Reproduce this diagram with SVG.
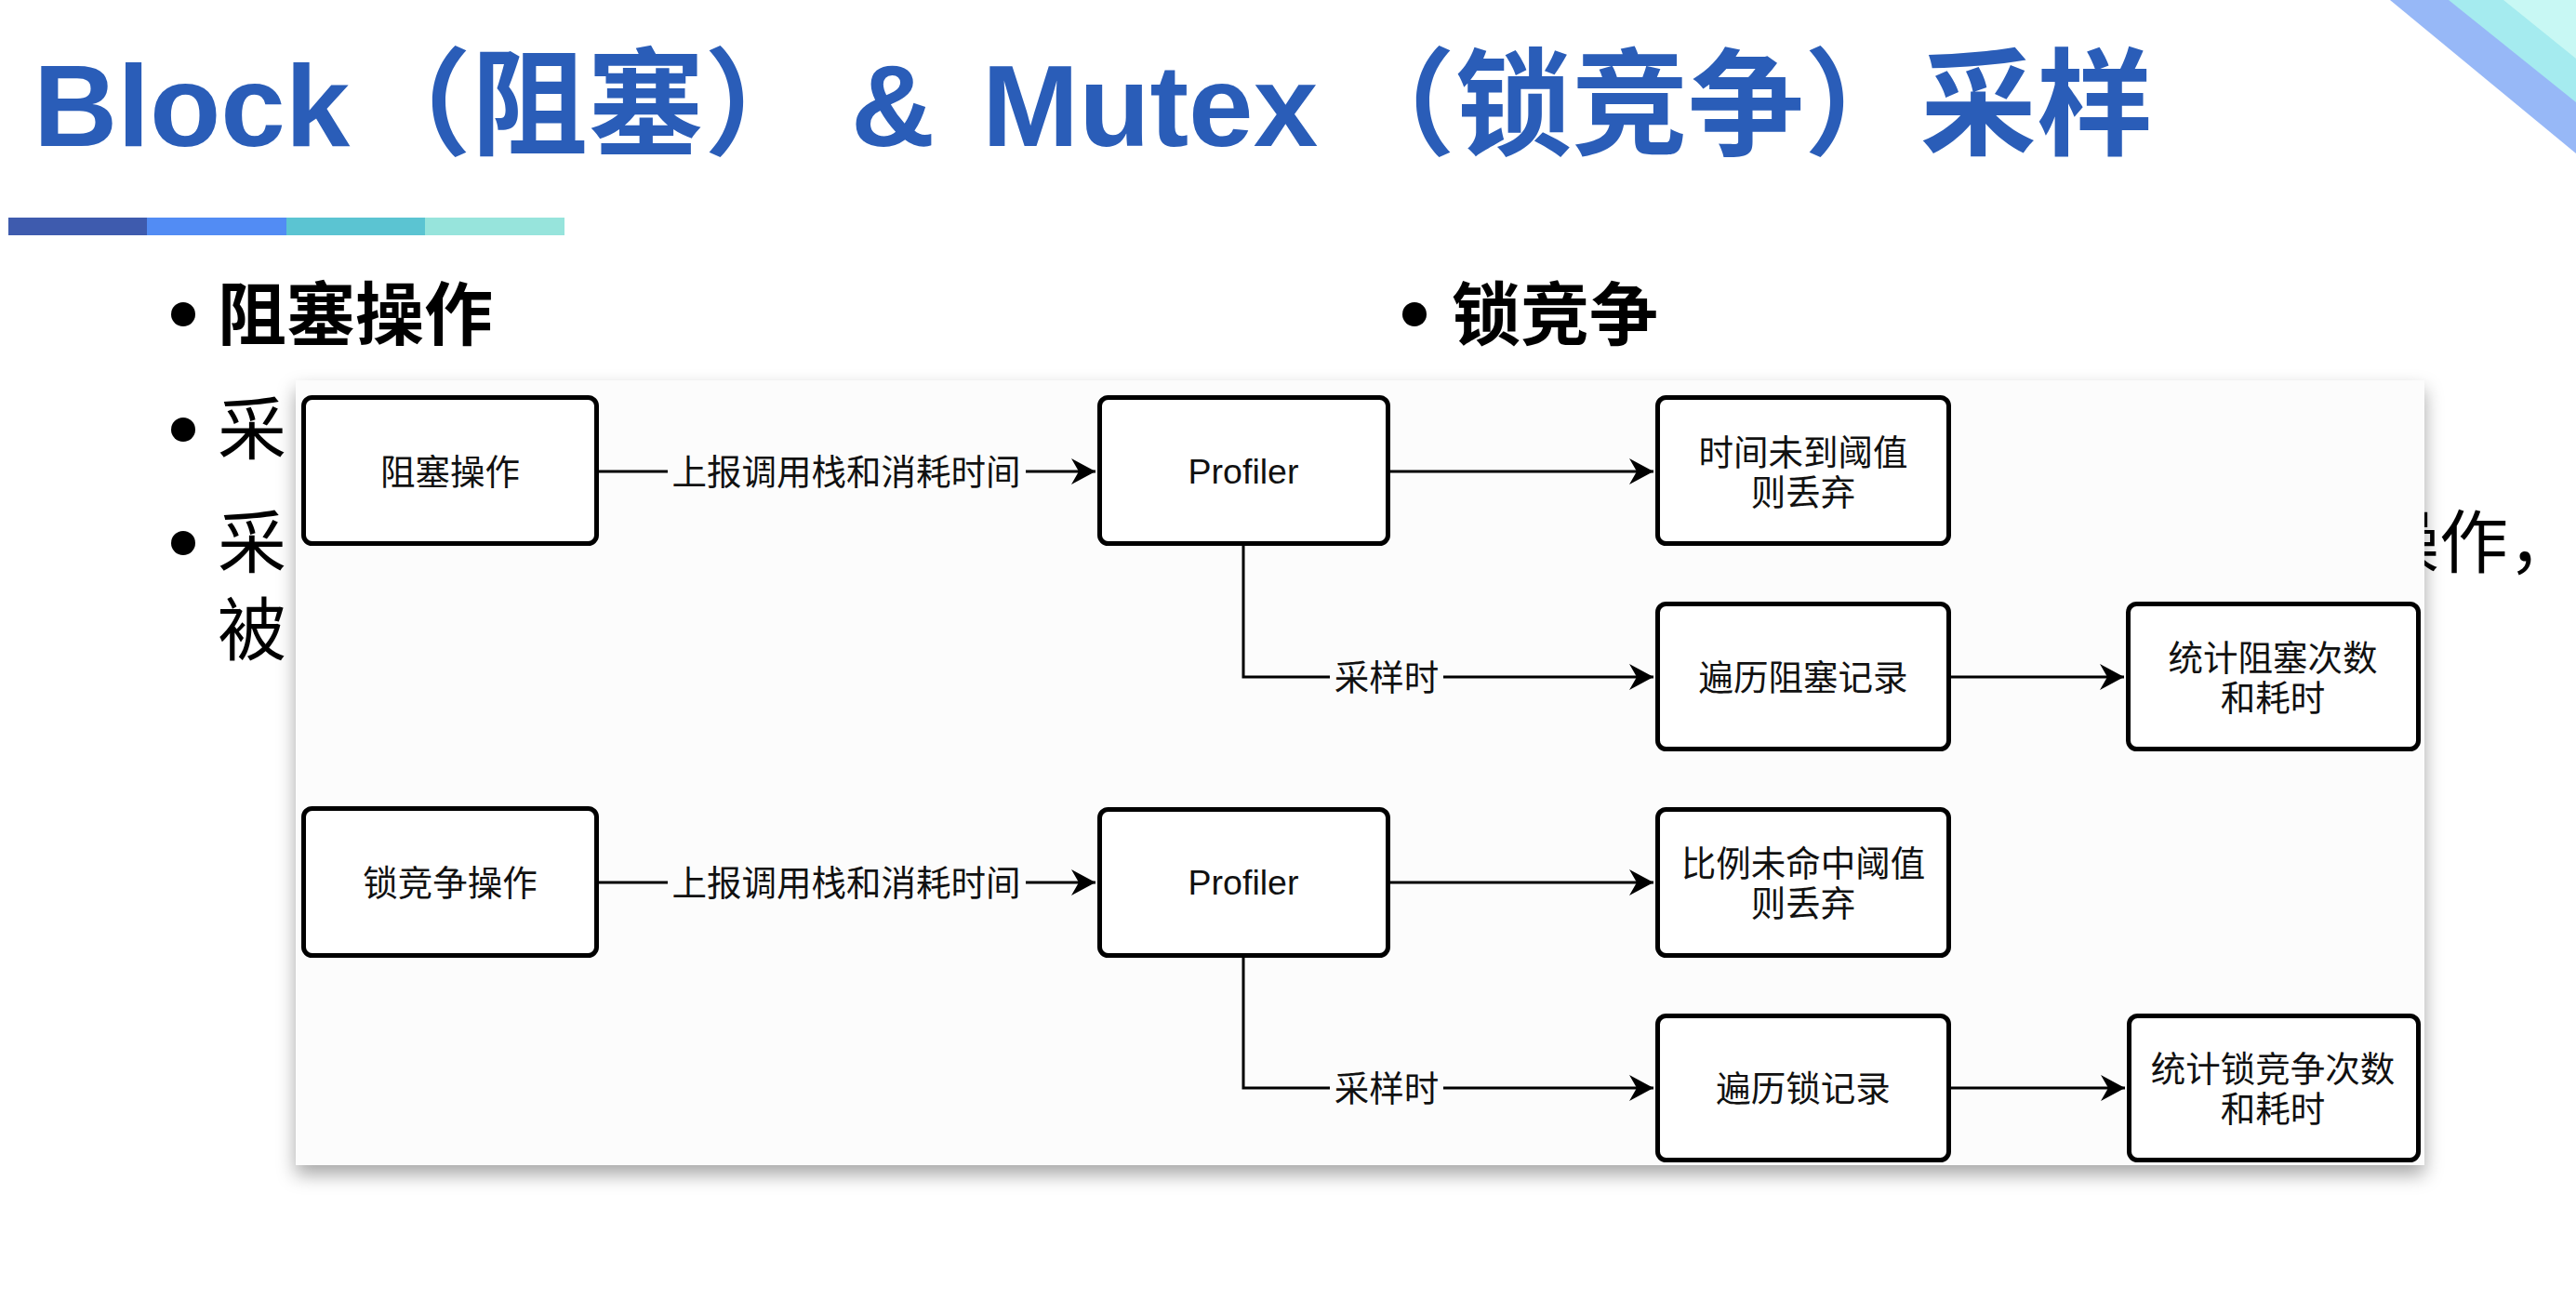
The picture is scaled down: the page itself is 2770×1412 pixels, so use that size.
<svg xmlns="http://www.w3.org/2000/svg" width="2770" height="1412" viewBox="0 0 2770 1412">
<defs>
<style>
.title{font-family:"Liberation Sans","Noto Sans CJK SC",sans-serif;font-size:125px;font-weight:700;fill:#2A5DB8}
.bul{font-family:"Noto Sans CJK SC",sans-serif;font-size:74px;fill:#000}
.bold{font-weight:700}
.box{fill:#FFFFFF;stroke:#000;stroke-width:5}
.lbl{font-family:"Liberation Sans","Noto Sans CJK SC",sans-serif;font-size:37.5px;fill:#111;text-anchor:middle}
.edge{fill:none;stroke:#000;stroke-width:3}
.lblbg{fill:#FCFCFC}
</style>
<marker id="arr" markerUnits="userSpaceOnUse" markerWidth="28" markerHeight="30" refX="26" refY="14" orient="auto">
<path d="M0,0 L26,14 L0,28 L8,14 Z" fill="#000"/>
</marker>
<filter id="shadow" x="-5%" y="-10%" width="110%" height="125%">
<feDropShadow dx="0" dy="10" stdDeviation="10" flood-color="#000" flood-opacity="0.35"/>
</filter>
</defs>
<rect width="2770" height="1412" fill="#FFFFFF"/>
<g id="corner">
<polygon points="2570,0 2770,0 2770,165" fill="#97B8F7"/>
<polygon points="2633,0 2770,0 2770,110" fill="#A5EBEF"/>
<polygon points="2692,0 2770,0 2770,63" fill="#C8F8F4"/>
</g>
<g id="title">
<text class="title" y="157"><tspan x="36">Block</tspan><tspan x="382">（阻塞）</tspan><tspan x="915">&amp;</tspan><tspan x="1056">Mutex</tspan><tspan x="1440">（锁竞争）采样</tspan></text>
<rect x="9" y="234" width="150" height="19" fill="#3E5BAE"/>
<rect x="158" y="234" width="150" height="19" fill="#528CF4"/>
<rect x="308" y="234" width="150" height="19" fill="#5BC4D2"/>
<rect x="457" y="234" width="150" height="19" fill="#97E4DC"/>
</g>
<g id="bullets">
<circle cx="197" cy="338" r="13" fill="#000"/>
<text class="bul bold" x="234" y="365">阻塞操作</text>
<circle cx="1521" cy="338" r="13" fill="#000"/>
<text class="bul bold" x="1561" y="365">锁竞争</text>
<circle cx="197" cy="462" r="13" fill="#000"/>
<text class="bul" x="234" y="488">采</text>
<circle cx="197" cy="584" r="13" fill="#000"/>
<text class="bul" x="234" y="610">采</text>
<text class="bul" x="234" y="704">被</text>
<text class="bul" x="2549" y="610">操作，</text>
</g>
<rect id="panel" x="318" y="409" width="2289" height="844" fill="#FCFCFC" filter="url(#shadow)"/>
<g id="connectors">
<path class="edge" d="M644,507 H1178" marker-end="url(#arr)"/>
<path class="edge" d="M1495,507 H1778" marker-end="url(#arr)"/>
<path class="edge" d="M1337,587 V728 H1778" marker-end="url(#arr)"/>
<path class="edge" d="M2098,728 H2284" marker-end="url(#arr)"/>
<path class="edge" d="M644,949 H1178" marker-end="url(#arr)"/>
<path class="edge" d="M1495,949 H1778" marker-end="url(#arr)"/>
<path class="edge" d="M1337,1030 V1170 H1778" marker-end="url(#arr)"/>
<path class="edge" d="M2098,1170 H2285" marker-end="url(#arr)"/>
<rect class="lblbg" x="718" y="488" width="385" height="40"/>
<text class="lbl" x="910" y="521">上报调用栈和消耗时间</text>
<rect class="lblbg" x="1430" y="709" width="122" height="40"/>
<text class="lbl" x="1491" y="742">采样时</text>
<rect class="lblbg" x="718" y="930" width="385" height="40"/>
<text class="lbl" x="910" y="963">上报调用栈和消耗时间</text>
<rect class="lblbg" x="1430" y="1151" width="122" height="40"/>
<text class="lbl" x="1491" y="1184">采样时</text>
</g>
<g id="n-block-op">
<rect class="box" x="326.5" y="427.5" width="315" height="157" rx="9"/>
<text class="lbl" x="484" y="521">阻塞操作</text>
</g>
<g id="n-profiler1">
<rect class="box" x="1182.5" y="427.5" width="310" height="157" rx="9"/>
<text class="lbl" x="1337" y="520">Profiler</text>
</g>
<g id="n-drop1">
<rect class="box" x="1782.5" y="427.5" width="313" height="157" rx="9"/>
<text class="lbl" x="1939" y="500">时间未到阈值</text>
<text class="lbl" x="1939" y="543">则丢弃</text>
</g>
<g id="n-walk1">
<rect class="box" x="1782.5" y="649.5" width="313" height="156" rx="9"/>
<text class="lbl" x="1939" y="742">遍历阻塞记录</text>
</g>
<g id="n-stat1">
<rect class="box" x="2288.5" y="649.5" width="312" height="156" rx="9"/>
<text class="lbl" x="2444" y="721">统计阻塞次数</text>
<text class="lbl" x="2444" y="764">和耗时</text>
</g>
<g id="n-lock-op">
<rect class="box" x="326.5" y="869.5" width="315" height="158" rx="9"/>
<text class="lbl" x="484" y="963">锁竞争操作</text>
</g>
<g id="n-profiler2">
<rect class="box" x="1182.5" y="870.5" width="310" height="157" rx="9"/>
<text class="lbl" x="1337" y="962">Profiler</text>
</g>
<g id="n-drop2">
<rect class="box" x="1782.5" y="870.5" width="313" height="157" rx="9"/>
<text class="lbl" x="1939" y="942">比例未命中阈值</text>
<text class="lbl" x="1939" y="985">则丢弃</text>
</g>
<g id="n-walk2">
<rect class="box" x="1782.5" y="1092.5" width="313" height="155" rx="9"/>
<text class="lbl" x="1939" y="1184">遍历锁记录</text>
</g>
<g id="n-stat2">
<rect class="box" x="2289.5" y="1092.5" width="311" height="155" rx="9"/>
<text class="lbl" x="2444" y="1163">统计锁竞争次数</text>
<text class="lbl" x="2444" y="1206">和耗时</text>
</g>
</svg>
